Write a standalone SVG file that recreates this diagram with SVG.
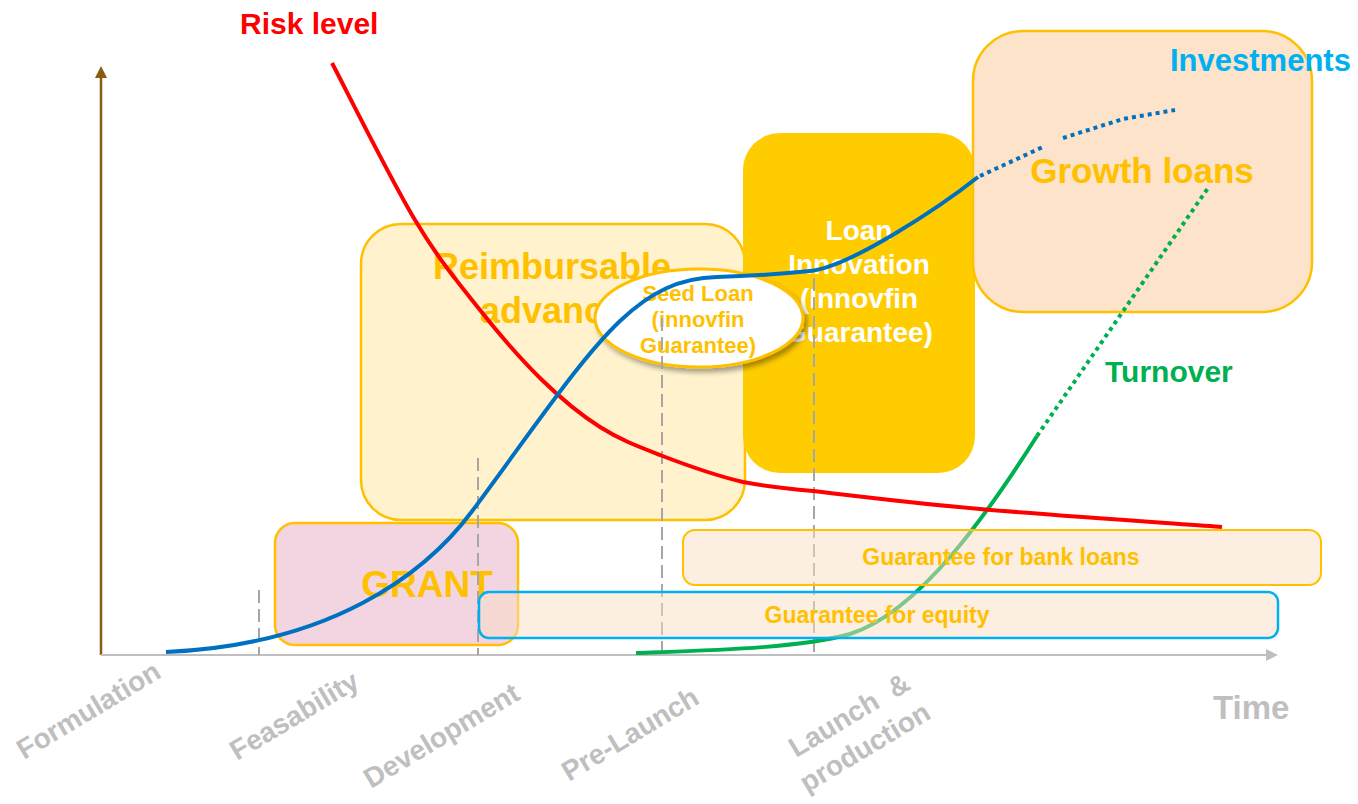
<svg xmlns="http://www.w3.org/2000/svg" width="1358" height="804" viewBox="0 0 1358 804">
  <style>
    text { font-family: "Liberation Sans", Arial, sans-serif; font-weight: bold; }
    .gold { fill: #FFC000; }
    .white { fill: #FFFFFF; }
    .phase { fill: #BFBFBF; font-size: 28px; }
    .box { stroke: #FFC000; }
    .tick { stroke: #A6A6A6; stroke-width: 2; stroke-dasharray: 13 6; fill: none; }
    .curve { fill: none; stroke-width: 4; stroke-linecap: butt; stroke-linejoin: round; }
    .dotted { stroke-dasharray: 4 4; }
  </style>
  <defs>
    <marker id="arrowUp" viewBox="0 0 12 12" refX="6" refY="6" markerWidth="12" markerHeight="12" markerUnits="userSpaceOnUse" orient="auto">
      <path d="M0,12 L6,0 L12,12 Z" fill="#8A5C12" transform="rotate(90 6 6)"/>
    </marker>
    <marker id="arrowRight" viewBox="0 0 12 12" refX="6" refY="6" markerWidth="12" markerHeight="12" markerUnits="userSpaceOnUse" orient="auto">
      <path d="M0,0 L12,6 L0,12 Z" fill="#BFBFBF"/>
    </marker>
    <filter id="softShadow" x="-20%" y="-20%" width="140%" height="150%">
      <feDropShadow dx="3" dy="4" stdDeviation="2.5" flood-color="#000000" flood-opacity="0.35"/>
    </filter>
  </defs>

  <rect width="1358" height="804" fill="#FFFFFF"/>

  <!-- axes -->
  <g id="axes">
    <line x1="101" y1="655" x2="101" y2="72" stroke="#8A5C12" stroke-width="2.5" marker-end="url(#arrowUp)"/>
    <line x1="101" y1="655" x2="1272" y2="655" stroke="#BFBFBF" stroke-width="2" marker-end="url(#arrowRight)"/>
  </g>

  <!-- funding instruments -->
  <g id="reimbursable-advance">
    <rect class="box" x="361" y="224" width="384" height="296" rx="40" fill="#FFF2CC" stroke-width="2.5"/>
    <text class="gold" x="552" y="279" font-size="36" text-anchor="middle">Reimbursable</text>
    <text class="gold" x="552" y="323" font-size="36" text-anchor="middle">advance</text>
  </g>

  <g id="loan-innovation">
    <rect x="743" y="133" width="232" height="340" rx="37" fill="#FFCC00"/>
    <text class="white" x="859" y="240" font-size="28" text-anchor="middle">Loan</text>
    <text class="white" x="859" y="274" font-size="28" text-anchor="middle">Innovation</text>
    <text class="white" x="859" y="308" font-size="28" text-anchor="middle">(Innovfin</text>
    <text class="white" x="859" y="342" font-size="28" text-anchor="middle">Guarantee)</text>
  </g>

  <g id="growth-loans">
    <rect class="box" x="973" y="31" width="339" height="281" rx="50" fill="#FCE3C9" stroke-width="2.5"/>
    <text class="gold" x="1142" y="183" font-size="35" text-anchor="middle">Growth loans</text>
  </g>

  <g id="grant">
    <rect class="box" x="275" y="523" width="243" height="122" rx="20" fill="#F2D5E0" stroke-width="2.5"/>
    <text class="gold" x="427" y="597" font-size="37" text-anchor="middle">GRANT</text>
  </g>

  <g id="seed-loan">
    <ellipse cx="699" cy="318" rx="104" ry="49" fill="#FFFFFF" stroke="#FFC000" stroke-width="3" filter="url(#softShadow)"/>
    <text class="gold" x="698" y="301" font-size="22" text-anchor="middle">Seed Loan</text>
    <text class="gold" x="698" y="327" font-size="22" text-anchor="middle">(innovfin</text>
    <text class="gold" x="698" y="353" font-size="22" text-anchor="middle">Guarantee)</text>
  </g>

  <!-- stage boundaries -->
  <g id="stage-ticks">
    <line class="tick" x1="259" y1="590" x2="259" y2="655"/>
    <line class="tick" x1="478" y1="458" x2="478" y2="655"/>
    <line class="tick" x1="662" y1="318" x2="662" y2="655"/>
    <line class="tick" x1="814" y1="278" x2="814" y2="655"/>
  </g>

  <!-- turnover curve (sits beneath the translucent guarantee bars) -->
  <g id="turnover-curve">
    <path class="curve" stroke="#00B050" d="M636,653 C720,650 800,648 850,634 C920,612 990,510 1037,436"/>
    <path class="curve dotted" stroke="#00B050" d="M1037,436 L1208,188"/>
  </g>

  <g id="bank-loan-guarantee">
    <rect x="683" y="530" width="638" height="55" rx="12" fill="#FBDDC5" fill-opacity="0.5" stroke="#FFC000" stroke-width="2"/>
    <text class="gold" x="1001" y="565" font-size="23" text-anchor="middle">Guarantee for bank loans</text>
  </g>

  <g id="equity-guarantee">
    <rect x="479" y="592" width="799" height="46" rx="10" fill="#FBDDC5" fill-opacity="0.5" stroke="#00B0F0" stroke-width="2.5"/>
    <text class="gold" x="877" y="623" font-size="23" text-anchor="middle">Guarantee for equity</text>
  </g>

  <!-- risk and investment curves -->
  <g id="connectors">
    <path class="curve" stroke="#FF0000" d="M332,63 C345.8,89.2 390.3,178.8 415,220 C439.7,261.2 458.8,283.3 480,310 C501.2,336.7 522,360.5 542,380 C562,399.5 580.3,414.5 600,427 C619.7,439.5 636.2,445.8 660,455 C683.8,464.2 717.5,476 743,482 C766,486.5 790,489 813,491 C852.5,495.5 911.8,503 980,509 C1048.2,515 1181.7,524 1222,527"/>
    <path class="curve" stroke="#0070C0" d="M166,652 C330,645 425,575 473,510 C590,352 630,279 717,277 C750,276.2 780,274 810,271 C850,267 940,207 978,177"/>
    <path class="curve dotted" stroke="#0070C0" d="M980,176 L1045,146 M1063,138 L1123,119 L1175,110"/>
  </g>

  <!-- curve labels -->
  <g id="labels">
    <text x="240" y="34" font-size="30" fill="#FF0000">Risk level</text>
    <text x="1170" y="71" font-size="31" fill="#00B0F0">Investments</text>
    <text x="1105" y="382" font-size="30" fill="#00B050">Turnover</text>
    <text x="1213" y="719" font-size="33" fill="#BFBFBF">Time</text>
  </g>

  <!-- stage names along the time axis -->
  <g id="stages">
    <text class="phase" x="24" y="760" transform="rotate(-31 24 760)">Formulation</text>
    <text class="phase" x="237" y="761" transform="rotate(-31 237 761)">Feasability</text>
    <text class="phase" x="371" y="789" transform="rotate(-31 371 789)">Development</text>
    <text class="phase" x="569" y="782" transform="rotate(-31 569 782)">Pre-Launch</text>
    <text class="phase" x="796" y="758" transform="rotate(-31 796 758)">Launch&#160;&#160;&amp;</text>
    <text class="phase" x="807" y="793" transform="rotate(-31 807 793)">production</text>
  </g>
</svg>
